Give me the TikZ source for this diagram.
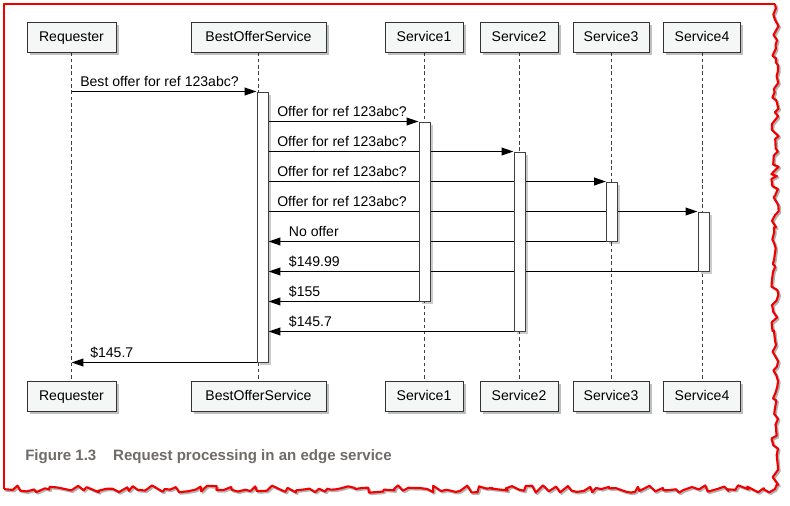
\documentclass[tikz,border=0pt]{standalone}
\usepackage{fontspec}
\setmainfont{Liberation Sans}
\usetikzlibrary{arrows.meta,shadows,backgrounds,decorations.pathmorphing}
\definecolor{actorfill}{HTML}{F5F6F6}
\definecolor{captiongray}{HTML}{6F6B68}
\definecolor{tornred}{HTML}{F20000}

\begin{document}
\begin{tikzpicture}[x=0.025cm, y=-0.025cm,
    actor/.style = {draw=black!80, fill=actorfill, line width=0.7pt, minimum height=0.75cm, inner sep=0pt,
                    text height=8pt, text depth=2pt, font=\fontsize{10}{12}\selectfont,
                    drop shadow={shadow xshift=1.8pt, shadow yshift=-1.8pt, fill=black, opacity=0.25}},
    act/.style = {draw=black!75, fill=white, line width=0.7pt, minimum width=0.275cm, inner sep=0pt,
                  drop shadow={shadow xshift=1.8pt, shadow yshift=-1.8pt, fill=black, opacity=0.2}},
    life/.style = {black!75, line width=0.7pt, dash pattern=on 2.5pt off 2pt},
    msg/.style = {line width=1.1pt, -{Triangle[length=8.5pt, width=5.5pt]}},
    lbl/.style = {inner sep=0pt, anchor=base west, font=\fontsize{10}{12}\selectfont},
    torn/.style = {tornred, line width=1.5pt, line join=round}]
        \def\px{0.025cm}
        \useasboundingbox (0,0) rectangle (790,506);
        \begin{pgfonlayer}{background}
        \fill[white] (0,0) rectangle (790,506);
        \end{pgfonlayer}

        % participants, top and bottom
        \node[actor, minimum width=89*\px] (req) at (71.5,37) {Requester};
        \node[actor, minimum width=135*\px] (bos) at (258.5,37) {BestOfferService};
        \node[actor, minimum width=78*\px] (s1) at (424,37) {Service1};
        \node[actor, minimum width=78*\px] (s2) at (519,37) {Service2};
        \node[actor, minimum width=76*\px] (s3) at (611,37) {Service3};
        \node[actor, minimum width=77*\px] (s4) at (702,37) {Service4};

        \node[actor, minimum width=89*\px] (reqb) at (71.5,396) {Requester};
        \node[actor, minimum width=135*\px] (bosb) at (258.5,396) {BestOfferService};
        \node[actor, minimum width=78*\px] (s1b) at (424,396) {Service1};
        \node[actor, minimum width=78*\px] (s2b) at (519,396) {Service2};
        \node[actor, minimum width=76*\px] (s3b) at (611,396) {Service3};
        \node[actor, minimum width=77*\px] (s4b) at (702,396) {Service4};

        % activations
        \node[act, minimum height=270*\px] (a0) at (262.5,227) {};
        \node[act, minimum height=179*\px] (a1) at (424.5,211.5) {};
        \node[act, minimum height=179*\px] (a2) at (519.5,241.5) {};
        \node[act, minimum height=59*\px] (a3) at (612,211.5) {};
        \node[act, minimum height=59*\px] (a4) at (703.5,241.5) {};

        \begin{pgfonlayer}{background}
        \draw[life] (req.south) -- (reqb.north);
        \draw[life] (bos.south) -- (bosb.north);
        \draw[life] (s1.south) -- (s1b.north);
        \draw[life] (s2.south) -- (s2b.north);
        \draw[life] (s3.south) -- (s3b.north);
        \draw[life] (s4.south) -- (s4b.north);

        \draw[msg] (req.south |- a0.north) -- (a0.north west)
            node[lbl, at start, xshift=5.7pt, yshift=3.5pt] (t1) {Best offer for ref 123abc?};
        \draw[msg] (a0.east |- a1.north) -- (a1.north west)
            node[lbl, at start, xshift=5.7pt, yshift=3.5pt] (t2) {Offer for ref 123abc?};
        \draw[msg] (a0.east |- a2.north) -- (a2.north west)
            node[lbl, at start, xshift=5.7pt, yshift=3.5pt] (t3) {Offer for ref 123abc?};
        \draw[msg] (a0.east |- a3.north) -- (a3.north west)
            node[lbl, at start, xshift=5.7pt, yshift=3.5pt] (t4) {Offer for ref 123abc?};
        \draw[msg] (a0.east |- a4.north) -- (a4.north west)
            node[lbl, at start, xshift=5.7pt, yshift=3.5pt] (t5) {Offer for ref 123abc?};

        \draw[msg] (a3.south west) -- (a0.east |- a3.south)
            node[lbl, at end, xshift=14pt, yshift=3.5pt] (t6) {No offer};
        \draw[msg] (a4.south west) -- (a0.east |- a4.south)
            node[lbl, at end, xshift=14pt, yshift=3.5pt] (t7) {\$149.99};
        \draw[msg] (a1.south west) -- (a0.east |- a1.south)
            node[lbl, at end, xshift=14pt, yshift=3.5pt] (t8) {\$155};
        \draw[msg] (a2.south west) -- (a0.east |- a2.south)
            node[lbl, at end, xshift=14pt, yshift=3.5pt] (t9) {\$145.7};
        \draw[msg] (a0.south west) -- (req.south |- a0.south)
            node[lbl, at end, xshift=12.8pt, yshift=3.5pt] (t10) {\$145.7};
        \end{pgfonlayer}

        \node[anchor=base west, inner sep=0pt, text=captiongray, font=\bfseries\fontsize{10.7}{12}\selectfont]
            (cap) at (25,460) {Figure 1.3\hspace{12pt}Request processing in an edge service};

        % torn page edge
        \pgfmathsetseed{7}
        \draw[torn, black!30, shift={(1.5,1.5)}, decorate, decoration={random steps, segment length=3.5pt, amplitude=2.6pt}]
            (775,4) -- (775,489) -- (4,489);
        \pgfmathsetseed{7}
        \draw[torn, decorate, decoration={random steps, segment length=3.5pt, amplitude=2.6pt}]
            (775,4) -- (775,489) -- (4,489);
        \draw[torn] (4,489) -- (4,4) -- (775,4);
    \end{tikzpicture}
\end{document}
